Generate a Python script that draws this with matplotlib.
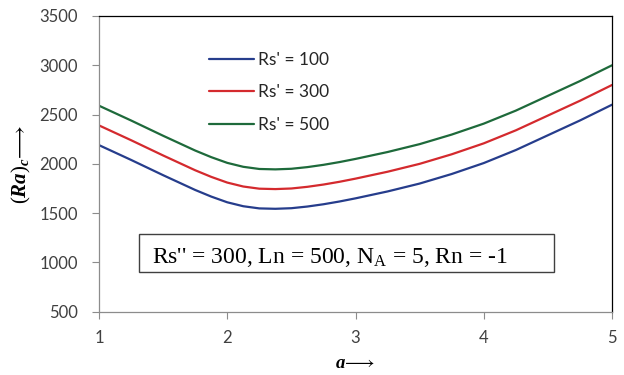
import matplotlib
matplotlib.use("Agg")
import matplotlib.pyplot as plt
from matplotlib.patches import Rectangle

a_vals = [1.0, 1.25, 1.5, 1.75, 1.875, 2.0, 2.125, 2.25, 2.375, 2.5, 2.625, 2.75, 2.875, 3.0,
          3.25, 3.5, 3.75, 4.0, 4.25, 4.5, 4.75, 5.0]
rs100 = [2190, 2040, 1885, 1735, 1668, 1610, 1570, 1548, 1544, 1550, 1567, 1590, 1618, 1650,
         1720, 1800, 1897, 2008, 2140, 2290, 2440, 2600]
rs300 = [2390, 2240, 2085, 1935, 1868, 1810, 1770, 1748, 1744, 1750, 1767, 1790, 1818, 1850,
         1920, 2000, 2097, 2208, 2340, 2490, 2640, 2800]
rs500 = [2590, 2440, 2285, 2135, 2068, 2010, 1970, 1948, 1944, 1950, 1967, 1990, 2018, 2050,
         2120, 2200, 2297, 2408, 2540, 2690, 2840, 3000]
labels = ["Rs' = 100", "Rs' = 300", "Rs' = 500"]
colors = ["#263d8c", "#d42a2e", "#1e6a3b"]
x_ticks = [1, 2, 3, 4, 5]
y_ticks = [500, 1000, 1500, 2000, 2500, 3000, 3500]
note = r"Rs'' = 300, Ln = 500, N$_{\mathrm{A}}$ = 5, Rn = -1"

plt.rcParams['mathtext.fontset'] = 'custom'
plt.rcParams['mathtext.rm'] = 'Liberation Serif'
plt.rcParams['mathtext.it'] = 'Liberation Serif:italic'
plt.rcParams['mathtext.bf'] = 'Liberation Serif:bold:italic'

fig = plt.figure(figsize=(6.24, 3.75), dpi=100)
ax = fig.add_axes([99/624, 1-311.7/375, 513/624, 295.7/375])

for ys, lab, c in zip([rs100, rs300, rs500], labels, colors):
    ax.plot(a_vals, ys, color=c, lw=1.6, label=lab, solid_capstyle='round', solid_joinstyle='round')

ax.set_xlim(1, 5)
ax.set_ylim(500, 3500)
ax.set_xticks(x_ticks)
ax.set_yticks(y_ticks)
ax.set_xticklabels([str(t) for t in x_ticks], fontfamily='Lato', fontsize=12, color='#404040')
ax.set_yticklabels([str(t) for t in y_ticks], fontfamily='Lato', fontsize=12, color='#404040')
ax.tick_params(axis='both', direction='out', length=5, width=0.8, color='#8c8c8c')
ax.tick_params(axis='x', pad=8)
ax.tick_params(axis='y', pad=10)
for s in ['left', 'bottom']:
    ax.spines[s].set_color('#8c8c8c')
    ax.spines[s].set_linewidth(0.9)
for s in ['top', 'right']:
    ax.spines[s].set_color('#000000')
    ax.spines[s].set_linewidth(0.9)

ax.set_xlabel(r"$\mathbf{a}\!\longrightarrow$", fontsize=13.5, labelpad=5)
ax.set_ylabel(r"$(\mathbf{Ra})_{\mathbf{c}}\!\longrightarrow$", fontsize=15, labelpad=5)

leg = ax.legend(loc='upper left', bbox_to_anchor=(0.2, 0.902), frameon=False,
                handlelength=2.6, handletextpad=0.25, labelspacing=0.95,
                prop={'family': 'Lato', 'size': 12.5}, borderaxespad=0)
for t in leg.get_texts():
    t.set_color('#262626')

ax.add_patch(Rectangle((0.078, 0.133), 0.809, 0.130, transform=ax.transAxes,
                       fill=False, edgecolor='#404040', lw=1.0))
ax.text(0.103, 0.164, note, transform=ax.transAxes, fontsize=17,
        fontfamily='Liberation Serif', va='baseline', ha='left', color='#000000')

fig.savefig("out.png", dpi=100)
